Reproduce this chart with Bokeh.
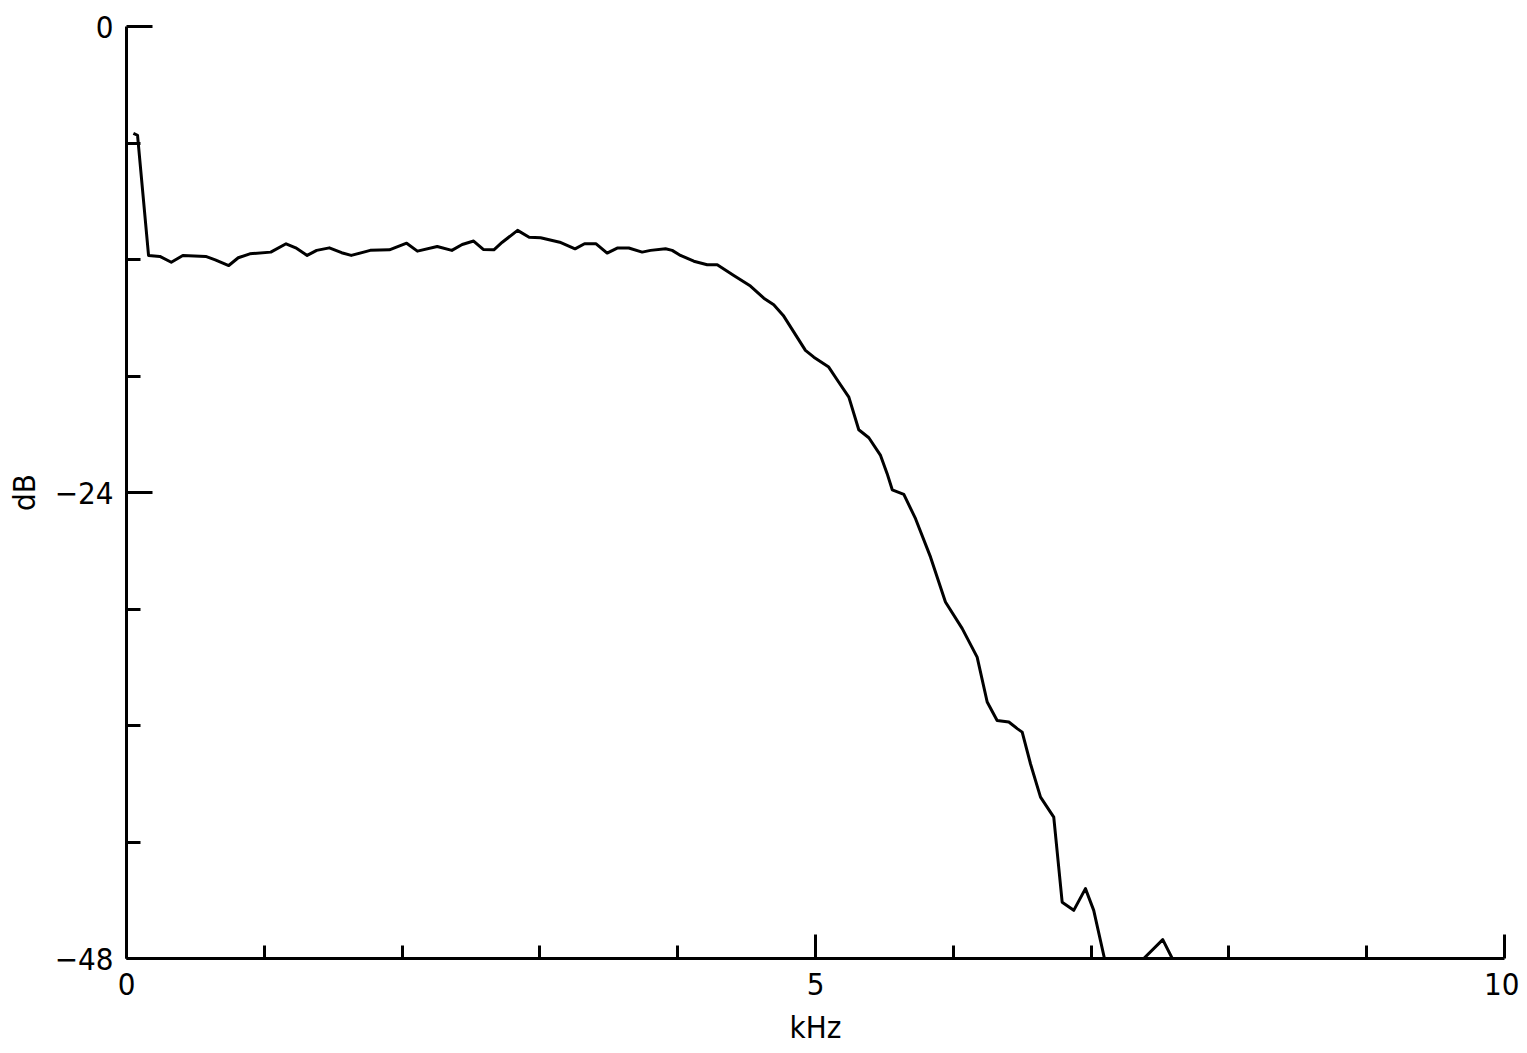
from bokeh.plotting import figure
from bokeh.models import Range1d, FixedTicker
from bokeh.embed import file_html
from bokeh.resources import INLINE

# Frequency (kHz) and level (dB)
freq_khz = [0.05, 0.08, 0.16, 0.242, 0.325, 0.409, 0.575, 0.644, 0.742, 0.811, 0.895,
            1.047, 1.158, 1.228, 1.311, 1.380, 1.472, 1.561, 1.631, 1.769, 1.908,
            2.033, 2.111, 2.255, 2.361, 2.436, 2.519, 2.589, 2.666, 2.727, 2.838,
            2.922, 3.005, 3.144, 3.255, 3.324, 3.408, 3.488, 3.561, 3.645, 3.742,
            3.803, 3.912, 3.960, 4.020, 4.117, 4.214, 4.287, 4.407, 4.528, 4.625,
            4.697, 4.766, 4.843, 4.927, 4.988, 5.096, 5.169, 5.242, 5.314, 5.387,
            5.472, 5.520, 5.557, 5.641, 5.726, 5.835, 5.943, 6.065, 6.173, 6.246,
            6.318, 6.403, 6.464, 6.500, 6.560, 6.633, 6.729, 6.790, 6.874, 6.959,
            7.019, 7.097, 7.382, 7.520, 7.589]
level_db = [-5.5, -5.6, -11.79, -11.84, -12.14, -11.79, -11.84, -12.02, -12.31, -11.91, -11.71,
            -11.62, -11.19, -11.40, -11.79, -11.53, -11.40, -11.65, -11.79, -11.53, -11.50,
            -11.16, -11.57, -11.33, -11.53, -11.23, -11.05, -11.48, -11.50, -11.11, -10.50,
            -10.85, -10.88, -11.11, -11.45, -11.19, -11.19, -11.67, -11.41, -11.41, -11.62,
            -11.53, -11.45, -11.53, -11.79, -12.09, -12.27, -12.27, -12.82, -13.37, -13.99,
            -14.33, -14.88, -15.74, -16.68, -17.03, -17.54, -18.32, -19.09, -20.77, -21.18,
            -22.09, -23.03, -23.86, -24.10, -25.35, -27.33, -29.64, -31.01, -32.48, -34.79,
            -35.74, -35.82, -36.16, -36.34, -37.97, -39.69, -40.72, -45.10, -45.52, -44.40,
            -45.52, -48.0, -48.0, -47.03, -48.0]

x_major_ticks = [0, 5, 10]
x_minor_ticks = [1, 2, 3, 4, 6, 7, 8, 9]
y_major_ticks = [-48, -24, 0]
y_minor_ticks = [-42, -36, -30, -18, -12, -6]

FONT = "DejaVu Sans Condensed"

p = figure(frame_width=1378, frame_height=932,
           min_border_left=126, min_border_top=26, min_border_right=15, min_border_bottom=60,
           x_range=Range1d(0, 10), y_range=Range1d(-48, 0),
           output_backend="svg", toolbar_location=None, background_fill_color="white",
           border_fill_color="white")
p.outline_line_color = None
p.xgrid.visible = False
p.ygrid.visible = False

p.line(freq_khz, level_db, line_color="black", line_width=3, line_join="round")

xa = p.xaxis[0]
xa.ticker = FixedTicker(ticks=x_major_ticks, minor_ticks=x_minor_ticks)
xa.axis_label = "kHz"
ya = p.yaxis[0]
ya.ticker = FixedTicker(ticks=y_major_ticks, minor_ticks=y_minor_ticks)
ya.axis_label = "dB"

for ax, maj, mnr in ((xa, 24, 13), (ya, 26, 14)):
    ax.axis_line_color = "black"
    ax.axis_line_width = 3
    ax.major_tick_line_color = "black"
    ax.major_tick_line_width = 3
    ax.minor_tick_line_color = "black"
    ax.minor_tick_line_width = 3
    ax.major_tick_in = maj
    ax.major_tick_out = 0
    ax.minor_tick_in = mnr
    ax.minor_tick_out = 0
    ax.major_label_text_font = FONT
    ax.major_label_text_font_size = "31px"
    ax.major_label_text_color = "black"
    ax.axis_label_text_font = FONT
    ax.axis_label_text_font_size = "31px"
    ax.axis_label_text_font_style = "normal"
    ax.axis_label_text_color = "black"

xa.major_label_standoff = 14
xa.axis_label_standoff = 11
ya.major_label_standoff = 13
ya.axis_label_standoff = 10

open("out.html", "w").write(file_html(p, INLINE))
